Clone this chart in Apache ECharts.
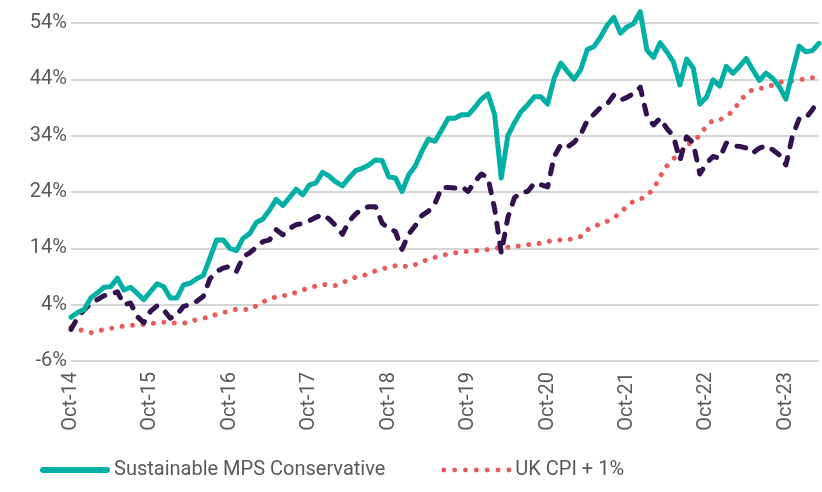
<!DOCTYPE html>
<html>
<head>
<meta charset="utf-8">
<script src="https://cdn.jsdelivr.net/npm/echarts@6/dist/echarts.min.js"></script>
<style>html,body{margin:0;padding:0;background:#fff}#c{width:822px;height:492px}</style>
</head>
<body>
<div id="c"></div>
<script>
const categories = [
"Oct-14","Nov-14","Dec-14",
"Jan-15","Feb-15","Mar-15","Apr-15","May-15","Jun-15","Jul-15","Aug-15","Sep-15","Oct-15","Nov-15","Dec-15",
"Jan-16","Feb-16","Mar-16","Apr-16","May-16","Jun-16","Jul-16","Aug-16","Sep-16","Oct-16","Nov-16","Dec-16",
"Jan-17","Feb-17","Mar-17","Apr-17","May-17","Jun-17","Jul-17","Aug-17","Sep-17","Oct-17","Nov-17","Dec-17",
"Jan-18","Feb-18","Mar-18","Apr-18","May-18","Jun-18","Jul-18","Aug-18","Sep-18","Oct-18","Nov-18","Dec-18",
"Jan-19","Feb-19","Mar-19","Apr-19","May-19","Jun-19","Jul-19","Aug-19","Sep-19","Oct-19","Nov-19","Dec-19",
"Jan-20","Feb-20","Mar-20","Apr-20","May-20","Jun-20","Jul-20","Aug-20","Sep-20","Oct-20","Nov-20","Dec-20",
"Jan-21","Feb-21","Mar-21","Apr-21","May-21","Jun-21","Jul-21","Aug-21","Sep-21","Oct-21","Nov-21","Dec-21",
"Jan-22","Feb-22","Mar-22","Apr-22","May-22","Jun-22","Jul-22","Aug-22","Sep-22","Oct-22","Nov-22","Dec-22",
"Jan-23","Feb-23","Mar-23","Apr-23","May-23","Jun-23","Jul-23","Aug-23","Sep-23","Oct-23","Nov-23","Dec-23",
"Jan-24","Feb-24","Mar-24"
];

const seriesNames = ["Sustainable MPS Conservative", "Comparator", "UK CPI + 1%"];

const sustainable = [
1.8,2.6,3.2,5.2,6.1,7.1,7.2,8.7,6.6,7.1,6.0,4.9,6.3,7.7,7.2,5.2,5.2,7.5,7.8,8.6,
9.2,12.3,15.5,15.5,14.0,13.6,15.8,16.6,18.6,19.2,20.8,22.7,21.6,23.0,24.5,23.5,25.2,25.6,27.5,26.8,
25.8,25.1,26.5,27.8,28.2,28.8,29.7,29.6,26.7,26.5,24.1,27.0,28.6,31.2,33.4,33.0,35.0,37.1,37.1,37.7,
37.7,39.0,40.5,41.4,37.7,26.5,34.0,36.3,38.3,39.5,40.9,40.9,39.6,44.2,46.9,45.4,44.0,45.7,49.3,49.8,
51.5,53.6,55.0,52.2,53.3,53.9,56.0,49.2,47.9,50.5,48.9,47.1,43.0,47.6,46.0,39.6,40.8,43.9,42.8,46.3,
45.1,46.3,47.7,45.7,43.8,45.1,44.2,42.7,40.5,45.4,49.9,48.9,49.1,50.4
];

const comparator = [
-0.4,1.7,3.1,4.2,4.9,5.6,5.8,6.3,4.0,4.3,1.9,0.8,2.8,3.8,3.1,1.6,2.2,3.7,4.0,4.6,
5.5,8.6,9.9,10.5,10.8,9.9,12.5,13.2,14.2,15.2,15.5,17.3,16.4,17.5,18.2,18.4,18.9,19.5,20.0,19.2,
18.0,16.5,18.8,20.1,21.0,21.4,21.4,18.5,17.5,17.0,13.8,16.5,18.0,19.8,20.6,22.0,24.8,24.8,24.7,25.0,
24.1,25.8,27.2,26.5,21.0,13.2,19.5,23.0,23.9,24.1,25.6,25.3,24.9,30.3,32.4,32.0,32.8,34.2,36.7,37.8,
39.0,39.6,41.2,40.3,40.8,41.5,42.6,37.5,35.9,37.1,35.3,33.9,29.7,33.8,32.7,27.2,29.1,30.3,30.0,32.7,
32.2,32.1,31.8,30.9,31.8,32.2,31.5,30.6,28.8,34.0,37.0,37.1,38.6,40.5
];

const cpiPlus1 = [
0.0,-0.3,-0.7,-1.0,-0.7,-0.4,-0.2,0.0,0.2,0.3,0.4,0.5,0.6,0.8,0.9,0.8,0.7,0.7,0.9,1.4,
1.6,1.8,2.3,2.6,2.9,3.2,3.2,3.1,3.8,4.5,5.0,5.4,5.6,5.7,6.2,6.6,7.0,7.3,7.6,7.5,
7.4,7.9,8.4,8.9,9.1,9.5,10.0,10.3,10.7,10.9,10.9,10.7,11.1,11.6,12.1,12.4,12.7,13.0,13.2,13.3,
13.5,13.6,13.6,13.8,14.0,14.1,14.2,14.3,14.5,14.7,14.7,14.9,15.2,15.4,15.5,15.5,15.8,16.1,17.3,17.8,
18.4,18.8,19.4,20.3,21.5,22.4,22.7,23.4,24.5,26.8,28.6,29.9,30.9,32.2,33.1,34.0,35.8,36.7,36.8,37.4,
38.4,40.0,41.4,42.2,42.4,42.5,43.0,43.5,43.6,43.7,43.9,44.1,44.3,44.4
];

const yTicks = { min: -6, max: 54, interval: 10 };

// legend icon shapes (icon geometry only)
let dotPath = 'path://';
for (let k = 0; k < 7; k++) {
  const cx = 2.5 + k * 11;
  dotPath += 'M' + (cx - 2.5) + ',2.5a2.5,2.5 0 1,0 5,0a2.5,2.5 0 1,0 -5,0Z';
}
const linePath = 'path://M3,0L67,0A3,3 0 0,1 67,6L3,6A3,3 0 0,1 3,0Z';

const chart = echarts.init(document.getElementById('c'), null, { renderer: 'canvas' });
const font = 'Roboto, "Noto Sans", sans-serif';
chart.setOption({
  animation: false,
  backgroundColor: '#ffffff',
  grid: { left: 71, right: 3, top: 23, bottom: 131, containLabel: false },
  legend: {
    data: [
      { name: seriesNames[0], icon: linePath },
      { name: seriesNames[2], icon: dotPath }
    ],
    left: 35, top: 455,
    itemWidth: 70, itemHeight: 6, itemGap: 56,
    textStyle: { fontFamily: font, fontSize: 20, color: '#595959', padding: [0, 0, 0, -1] }
  },
  xAxis: {
    type: 'category',
    data: categories,
    boundaryGap: false,
    axisLine: { show: false },
    axisTick: { show: false },
    axisLabel: {
      interval: 11, rotate: 90, margin: 11,
      fontFamily: font, fontSize: 20, color: '#595959'
    },
    splitLine: { show: false }
  },
  yAxis: {
    type: 'value',
    min: yTicks.min, max: yTicks.max, interval: yTicks.interval,
    axisLine: { show: false },
    axisTick: { show: false },
    axisLabel: { formatter: '{value}%', margin: 4, fontFamily: font, fontSize: 20, color: '#595959' },
    splitLine: { lineStyle: { color: '#c9c9c9', width: 1.5 } }
  },
  series: [
    {
      name: seriesNames[0], type: 'line', data: sustainable,
      showSymbol: false, symbol: 'none', z: 3, clip: false,
      lineStyle: { color: '#00b0a6', width: 5, join: 'round', cap: 'round' },
      itemStyle: { color: '#00b0a6' }
    },
    {
      name: seriesNames[1], type: 'line', data: comparator,
      showSymbol: false, symbol: 'none', z: 2, clip: false,
      lineStyle: { color: '#33104f', width: 5, type: [9, 11], cap: 'round', join: 'round' },
      itemStyle: { color: '#33104f' }
    },
    {
      name: seriesNames[2], type: 'line', data: cpiPlus1,
      showSymbol: false, symbol: 'none', z: 1, clip: false,
      lineStyle: { color: '#e85a5c', width: 5, type: [0.01, 10.5], cap: 'round' },
      itemStyle: { color: '#e85a5c' }
    }
  ]
});
</script>
</body>
</html>
